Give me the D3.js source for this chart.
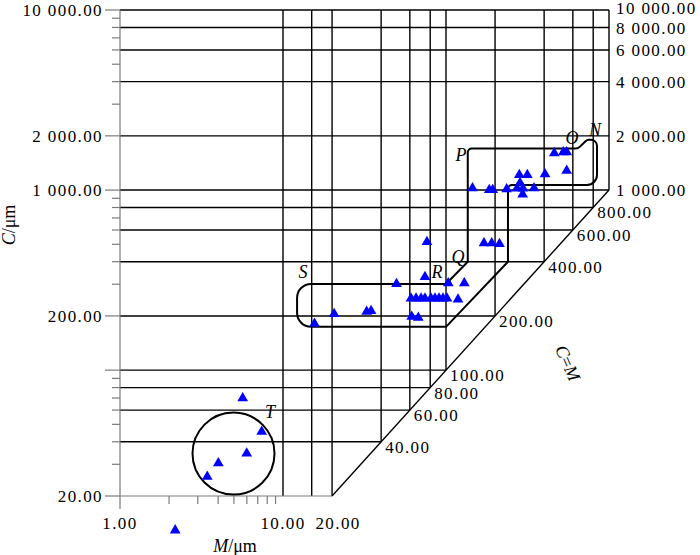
<!DOCTYPE html>
<html><head><meta charset="utf-8">
<script src="https://cdn.jsdelivr.net/npm/d3@7"></script>
<style>
body{margin:0;background:#fff}
text{font-family:"Liberation Serif","Times New Roman",serif;fill:#000}
</style>
</head><body>
<svg id="chart" width="700" height="555"></svg>
<script>
// ---------- data ----------
const leftTickLabels   = [20, 200, 1000, 2000, 10000];
const leftLongTicks    = [20, 100, 200, 1000, 2000, 10000];
const rightTickLabels  = [1000, 2000, 4000, 6000, 8000, 10000];
const diagTickLabels   = [40, 60, 80, 100, 200, 400, 600, 800];
const bottomTickLabels = [1, 10, 20];
const gridC = [40, 60, 80, 100, 200, 400, 600, 800, 1000, 2000, 4000, 6000, 8000, 10000];
const gridM = [10, 15, 20, 40, 60, 80, 100, 200, 400, 600, 800, 1000];

// samples (M in µm, C in µm)
const sampleM = [5.66, 7.40, 5.99, 4.01, 3.43, 2.18,
  15.6, 20.6, 32.6, 34.7, 49.7, 61.6, 67.6,
  61.0, 65.5, 70.3, 74.3, 80.9, 85.6, 90.6, 95.9, 101.4, 118.5,
  74.3, 103.3, 129.5, 76.4, 171, 190.7, 212.9,
  145.4, 184.3, 193.4, 235.7, 281.7, 315.4, 284.5, 272.6, 296.8, 295.5, 346.7, 405, 461.7, 524.3, 550, 550];
const sampleC = [69.8, 45.5, 34.5, 30.4, 25.6, 12.9,
  181, 205, 211, 213, 301, 198, 195.7,
  250, 250, 250, 250, 250, 250, 250, 250, 250, 247,
  329, 304, 304, 515, 507, 507, 502,
  1024, 1002, 1002, 1011, 1214, 1214, 1096, 1022, 1022, 946, 1024, 1225, 1602, 1624, 1624, 1283];

// envelope S-R-Q-P-O-N (vertices in data units)
const envelopeM = [12.2, 100, 136, 136, 645, 733, 844, 844, 240, 240, 100, 12.2];
const envelopeC = [301, 301, 400, 1700, 1700, 1900, 1900, 1068, 1068, 400, 174, 174];
const envelopeR = [14, 0, 0, 4, 6, 5, 6, 10, 4, 0, 0, 14];

// circle T
const circleM = 4.97, circleC = 34.4;

// region letters
const letterText = ["S", "R", "Q", "P", "O", "N", "T"];
const letterM = [13.27, 88.1, 118.5, 123.6, 593, 821, 8.32];
const letterC = [351, 351, 425, 1568, 1950, 2159, 58.6];

// ---------- drawing ----------
const svg = d3.select("#chart");
const x = d3.scaleLog().domain([1, 1000]).range([120, 609]);
const y = d3.scaleLog().domain([20, 10000]).range([496, 10]);
const fmt = v => d3.format(",.2f")(v).replace(/,/g, " ");
const AX = "#7a7a7a";
const FS = 17;
const LS = 1.4;

// grid horizontal
svg.append("g").selectAll("line").data(gridC).join("line")
  .attr("x1", x(1)).attr("x2", c => x(Math.min(c, 1000)))
  .attr("y1", c => y(c)).attr("y2", c => y(c))
  .attr("stroke", "#000").attr("stroke-width", 1.4);
// grid vertical
svg.append("g").selectAll("line").data(gridM).join("line")
  .attr("x1", m => x(m)).attr("x2", m => x(m))
  .attr("y1", y(10000)).attr("y2", m => y(Math.max(m, 20)))
  .attr("stroke", "#000").attr("stroke-width", 1.4);
// diagonal C=M
svg.append("line").attr("x1", x(20)).attr("y1", y(20)).attr("x2", x(1000)).attr("y2", y(1000))
  .attr("stroke", "#000").attr("stroke-width", 1.4);

// left axis
svg.append("line").attr("x1", x(1)).attr("x2", x(1)).attr("y1", y(20)).attr("y2", y(10000))
  .attr("stroke", AX).attr("stroke-width", 1.2);
const leftTicks = y.ticks(30).filter(v => v >= 20 && v <= 10000);
svg.append("g").selectAll("line").data(leftTicks).join("line")
  .attr("x1", v => leftLongTicks.includes(v) ? x(1) - 15 : x(1) - 8).attr("x2", x(1))
  .attr("y1", v => y(v)).attr("y2", v => y(v))
  .attr("stroke", AX).attr("stroke-width", 1.2);
svg.append("g").selectAll("text").data(leftTickLabels).join("text")
  .attr("x", x(1) - 17).attr("y", v => y(v)).attr("dy", "0.35em")
  .attr("text-anchor", "end").attr("font-size", FS).attr("letter-spacing", LS)
  .text(fmt);

// bottom axis
svg.append("line").attr("x1", x(1)).attr("x2", x(20)).attr("y1", y(20)).attr("y2", y(20))
  .attr("stroke", AX).attr("stroke-width", 1.2);
const bottomTicks = [1, 2, 3, 4, 5, 6, 7, 8, 9];
svg.append("g").selectAll("line").data(bottomTicks).join("line")
  .attr("x1", m => x(m)).attr("x2", m => x(m))
  .attr("y1", y(20)).attr("y2", m => m === 1 ? y(20) + 13 : y(20) + 8)
  .attr("stroke", AX).attr("stroke-width", 1.2);
svg.append("g").selectAll("text").data(bottomTickLabels).join("text")
  .attr("x", m => x(m) + (m === 20 ? 6 : 0)).attr("y", 529)
  .attr("text-anchor", "middle").attr("font-size", FS).attr("letter-spacing", LS)
  .text(fmt);

// right labels
svg.append("g").selectAll("text").data(rightTickLabels).join("text")
  .attr("x", x(1000) + 7)
  .attr("y", c => y(c) + (c === 10000 ? -2 : c === 8000 ? 1 : 0)).attr("dy", "0.35em")
  .attr("font-size", FS).attr("letter-spacing", LS).text(fmt);
// diagonal labels
svg.append("g").selectAll("text").data(diagTickLabels).join("text")
  .attr("x", c => x(c) + 4).attr("y", c => y(c) + 5).attr("dy", "0.35em")
  .attr("font-size", FS).attr("letter-spacing", LS).text(fmt);

// axis titles
const yt = svg.append("text").attr("transform", "translate(15,225) rotate(-90)")
  .attr("text-anchor", "middle").attr("font-size", FS + 1);
yt.append("tspan").attr("font-style", "italic").text("C");
yt.append("tspan").text("/μm");
const xt = svg.append("text").attr("x", 235).attr("y", 552)
  .attr("text-anchor", "middle").attr("font-size", FS + 1);
xt.append("tspan").attr("font-style", "italic").text("M");
xt.append("tspan").text("/μm");
const dt = svg.append("text").attr("transform", "translate(568,363) rotate(66)")
  .attr("text-anchor", "middle").attr("dy", "0.35em").attr("font-size", FS + 1);
dt.append("tspan").attr("font-style", "italic").text("C");
dt.append("tspan").text("=");
dt.append("tspan").attr("font-style", "italic").text("M");

// envelope
const pts = envelopeM.map((m, i) => [x(m), y(envelopeC[i])]);
const p = d3.path();
const n = pts.length;
p.moveTo((pts[n - 1][0] + pts[0][0]) / 2, (pts[n - 1][1] + pts[0][1]) / 2);
for (let i = 0; i < n; i++) {
  const a = pts[i], b = pts[(i + 1) % n];
  if (envelopeR[i] > 0) p.arcTo(a[0], a[1], b[0], b[1], envelopeR[i]);
  else p.lineTo(a[0], a[1]);
}
p.closePath();
svg.append("path").attr("d", p.toString()).attr("fill", "none")
  .attr("stroke", "#000").attr("stroke-width", 2).attr("stroke-linejoin", "round");

// circle T
svg.append("circle").attr("cx", x(circleM)).attr("cy", y(circleC)).attr("r", 41)
  .attr("fill", "none").attr("stroke", "#000").attr("stroke-width", 2);

// letters
svg.append("g").selectAll("text").data(letterText).join("text")
  .attr("x", (d, i) => x(letterM[i])).attr("y", (d, i) => y(letterC[i])).attr("dy", "0.35em")
  .attr("text-anchor", "middle").attr("font-size", FS + 1).attr("font-style", "italic").text(d => d);

// samples
const tri = d3.symbol().type(d3.symbolTriangle).size(50);
svg.append("g").selectAll("path").data(sampleM).join("path")
  .attr("transform", (m, i) => `translate(${x(m)},${y(sampleC[i])})`)
  .attr("d", tri).attr("fill", "#0000ff");
</script>
</body></html>
